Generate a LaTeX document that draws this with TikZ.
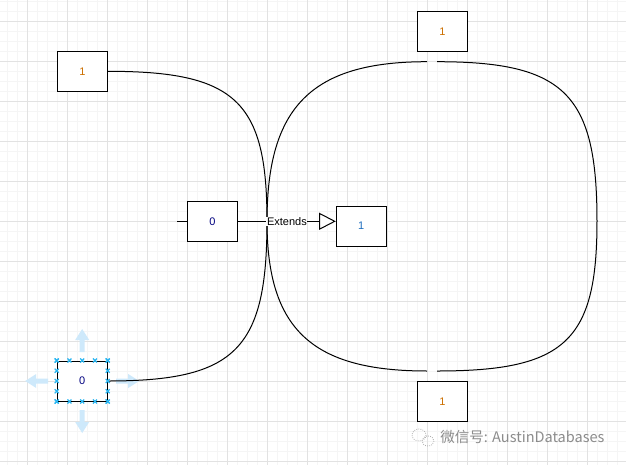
\documentclass[tikz,border=0pt]{standalone}
\usepackage{fontspec}
\setmainfont{Liberation Sans}
\newfontfamily\cjkfont{Noto Sans CJK SC}
\usetikzlibrary{arrows.meta,calc}

\definecolor{gridminor}{RGB}{245,245,245}
\definecolor{gridmajor}{RGB}{226,226,226}
\definecolor{oneorange}{RGB}{204,112,0}
\definecolor{zeronavy}{RGB}{0,0,128}
\definecolor{oneblue}{RGB}{30,110,190}
\definecolor{handleblue}{RGB}{41,182,242}
\definecolor{hoverblue}{RGB}{206,233,251}
\definecolor{markgray}{RGB}{140,140,140}

\tikzset{
  selmark/.pic={\draw[handleblue,line width=0.9pt] (-2,-2) -- (2,2) (-2,2) -- (2,-2);}
}

\begin{document}
\begin{tikzpicture}[
  x=0.75pt, y=-0.75pt,
  font=\fontsize{8.25pt}{10pt}\selectfont,
  box/.style={draw,line width=0.75pt,fill=white,minimum width=37.5pt,minimum height=30pt,inner sep=0pt},
  link/.style={line width=0.75pt},
  isa/.style={link,-{Triangle[length=12.5pt,width=12.75pt,fill=white]}}
]
  % canvas and grid
  \useasboundingbox (0,0) rectangle (626,465);
  \fill[white] (0,0) rectangle (626,465);
  \foreach \gx in {7.3,17.3,...,626}
    \draw[gridminor,line width=0.75pt] (\gx,0) -- (\gx,465);
  \foreach \gy in {1.7,11.7,...,465}
    \draw[gridminor,line width=0.75pt] (0,\gy) -- (626,\gy);
  \foreach \gx in {27.3,67.3,...,626}
    \draw[gridmajor,line width=0.75pt] (\gx,0) -- (\gx,465);
  \foreach \gy in {21.7,61.7,...,465}
    \draw[gridmajor,line width=0.75pt] (0,\gy) -- (626,\gy);

  % boxes
  \node[box,text=oneorange] (tl) at (82.5,71.3) {1};
  \node[box,text=oneorange] (top) at (442.5,31.3) {1};
  \node[box,text=oneorange] (bot) at (442.5,401.3) {1};
  \node[box,text=zeronavy] (mid) at (212.5,221.3) {0};
  \node[box,text=oneblue] (sup) at (361.3,226.2) {1};

  % hover arrows of the selected box
  \coordinate (blc) at (82.2,381);
  \foreach \ang/\rr in {0/34,90/29,180/34,270/29}
    \fill[hoverblue,shift={(blc)},rotate=\ang]
      (\rr,-2.5) -- (\rr+12,-2.5) -- (\rr+12,-7) -- (\rr+23,0)
      -- (\rr+12,7) -- (\rr+12,2.5) -- (\rr,2.5) -- cycle;
  \node[box,text=zeronavy] (bl) at (blc) {0};

  \coordinate (J) at (267,221.3);
  \coordinate (R) at (597,221.3);
  \coordinate (gtl) at (427,61.7);
  \coordinate (gtr) at (437,61.7);
  \coordinate (gbl) at (427,371);
  \coordinate (gbr) at (437,371);
  \coordinate (stub) at (177.3,221.3);

  % curves
  \draw[link] (tl.east) .. controls +(128,0) and +(0,-120) .. (J)
    .. controls +(0,128) and +(128,0) .. (bl.east);
  \draw[link] (gtl) .. controls +(-115,0) and +(0,-115) .. (J)
    .. controls +(0,108) and +(-115,0) .. (gbl);
  \draw[link] (gtr) .. controls +(128,0) and +(0,-127) .. (R)
    .. controls +(0,120) and +(128,0) .. (gbr);

  % extends edge
  \draw[link] (stub) -- (mid.west);
  \draw[isa] (mid.east) -- node[fill=white,inner sep=0.4pt] {Extends}
    (mid.east -| sup.west);

  % selection handles
  \foreach \f in {0,0.25,0.5,0.75,1}
    \path ($(bl.north west)!\f!(bl.north east)$) pic {selmark}
          ($(bl.south west)!\f!(bl.south east)$) pic {selmark}
          ($(bl.north west)!\f!(bl.south west)$) pic {selmark}
          ($(bl.north east)!\f!(bl.south east)$) pic {selmark};

  % watermark
  \draw[markgray!70,line width=0.6pt,densely dotted]
    (419,435) ellipse [x radius=7,y radius=6]
    (428,441) ellipse [x radius=6,y radius=5];
  \node[anchor=west,inner sep=0pt,text=markgray,
    font=\cjkfont\fontsize{10.9pt}{12pt}\selectfont] (wm) at (440,437)
    {微信号: AustinDatabases};
\end{tikzpicture}
\end{document}
